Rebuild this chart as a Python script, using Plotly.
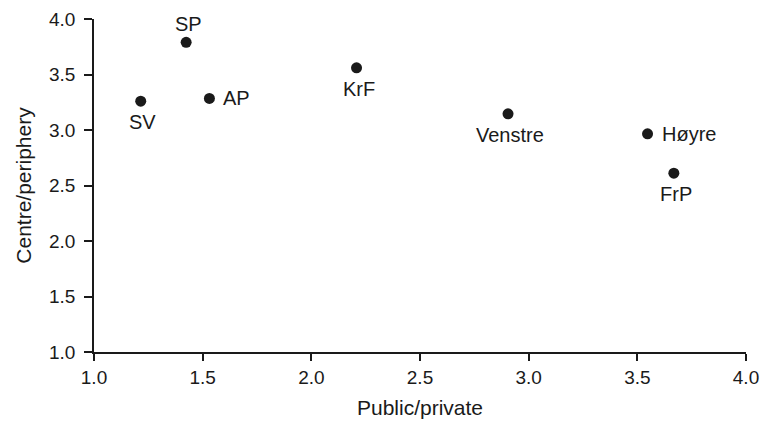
import plotly.graph_objects as go

parties = ["SV", "SP", "AP", "KrF", "Venstre", "Høyre", "FrP"]
public_private = [1.215, 1.424, 1.531, 2.208, 2.905, 3.547, 3.668]
centre_periphery = [3.26, 3.79, 3.284, 3.56, 3.146, 2.966, 2.611]
label_side = ["below", "above", "right", "below", "below", "right", "below"]

x_ticks = [1.0, 1.5, 2.0, 2.5, 3.0, 3.5, 4.0]
y_ticks = [1.0, 1.5, 2.0, 2.5, 3.0, 3.5, 4.0]

INK = "#1a1a1a"
FONT = "Liberation Sans"

# label placement styles (pixel offsets from the marker)
SIDE_STYLE = {
    "below": dict(xanchor="center", yanchor="middle", xshift=2, yshift=-21),
    "above": dict(xanchor="center", yanchor="middle", xshift=2, yshift=18),
    "right": dict(xanchor="left", yanchor="middle", xshift=12, yshift=0),
}

fig = go.Figure(go.Scatter(
    x=public_private, y=centre_periphery, mode="markers",
    marker=dict(size=11, color=INK, line=dict(width=0)),
    cliponaxis=False, showlegend=False, hoverinfo="skip",
))

for name, xv, yv, side in zip(parties, public_private, centre_periphery, label_side):
    fig.add_annotation(x=xv, y=yv, text=name, showarrow=False,
                       font=dict(size=20, color=INK, family=FONT),
                       **SIDE_STYLE[side])

axis_common = dict(showline=True, linecolor=INK, linewidth=1.5, automargin=False,
                   ticks="outside", tickcolor=INK, tickwidth=1.5,
                   showgrid=False, zeroline=False, tickformat=".1f",
                   tickfont=dict(size=19, color=INK, family=FONT))

fig.update_layout(
    template="none",
    width=763, height=422,
    margin=dict(l=94, r=17, t=19, b=70, autoexpand=False),
    paper_bgcolor="white", plot_bgcolor="white",
    font=dict(family=FONT, color=INK),
    xaxis=dict(range=[1, 4], tickvals=x_ticks, ticklen=7, ticklabelstandoff=0,
               title=dict(text="Public/private", font=dict(size=21, color=INK), standoff=14),
               **axis_common),
    yaxis=dict(range=[1, 4], tickvals=y_ticks, ticklen=8, ticklabelstandoff=5,
               title=dict(text="Centre/periphery", font=dict(size=21, color=INK), standoff=12),
               **axis_common),
)

fig.write_html("out.html", config={"displayModeBar": False},
               post_script="document.body.style.margin='0';document.body.style.overflow='hidden';")
